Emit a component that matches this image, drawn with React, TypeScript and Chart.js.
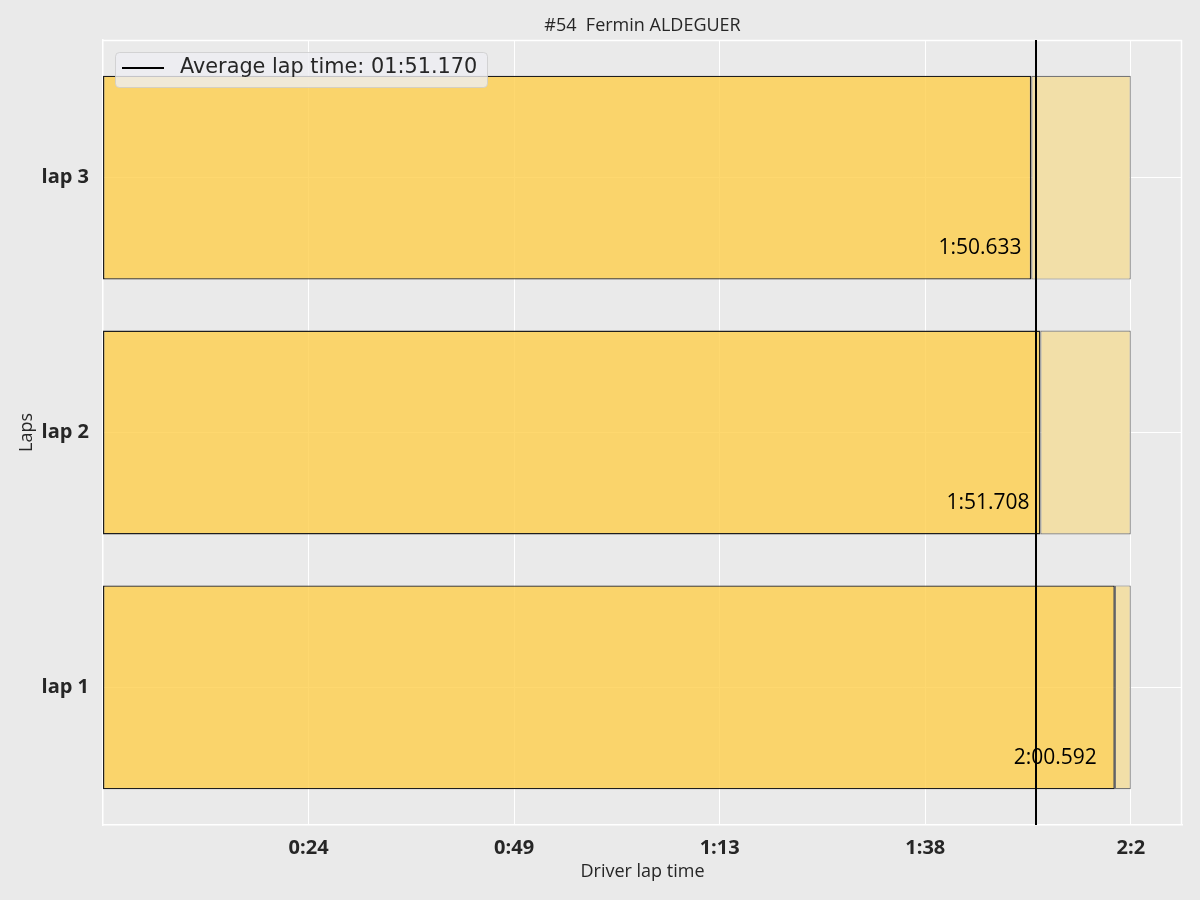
import React, { useEffect, useRef } from 'react';
import { Chart, registerables } from 'chart.js';

Chart.register(...registerables);

// ---- data ----
const lapNames = ['lap 1', 'lap 2', 'lap 3'];
const lapTimes = [120.592, 111.708, 110.633];
const lapTimeLabels = ['2:00.592', '1:51.708', '1:50.633'];
const referenceTime = 122.5;
const averageLapTime = 111.17;
const averageLabel = 'Average lap time: 01:51.170';
const xTickValues = [24.5, 49, 73.5, 98, 122.5];
const xMax = 128.6;
const titleText = '#54  Fermin ALDEGUER';
const xTitle = 'Driver lap time';
const yTitle = 'Laps';

const TEXT = '#262626';

function fmtTick(v: number): string {
  return `${Math.floor(v / 60)}:${Math.floor(v % 60)}`;
}

const decor = {
  id: 'decor',
  beforeDraw(chart: any) {
    const { ctx, width, height } = chart;
    ctx.save();
    ctx.fillStyle = '#EAEAEA';
    ctx.fillRect(0, 0, width, height);
    ctx.restore();
  },
  beforeDatasetsDraw(chart: any) {
    const { ctx, chartArea } = chart;
    ctx.save();
    ctx.strokeStyle = '#ffffff';
    ctx.lineWidth = 1.5;
    ctx.beginPath();
    ctx.moveTo(chartArea.left, chartArea.top + 0.5);
    ctx.lineTo(chartArea.right, chartArea.top + 0.5);
    ctx.moveTo(chartArea.right - 0.5, chartArea.top);
    ctx.lineTo(chartArea.right - 0.5, chartArea.bottom);
    ctx.stroke();
    ctx.restore();
  },
  afterDatasetsDraw(chart: any) {
    const { ctx, chartArea } = chart;
    const xs = chart.scales.x;
    const ys = chart.scales.y;
    ctx.save();
    // value labels
    ctx.font = '21px "Open Sans"';
    ctx.fillStyle = '#000';
    ctx.textAlign = 'left';
    ctx.textBaseline = 'alphabetic';
    lapTimes.forEach((v, i) => {
      ctx.fillText(lapTimeLabels[i], xs.getPixelForValue(v * 0.9), ys.getPixelForValue(i - 0.3));
    });
    // average line
    const ax = Math.round(xs.getPixelForValue(averageLapTime));
    ctx.strokeStyle = '#000';
    ctx.lineWidth = 2;
    ctx.beginPath();
    ctx.moveTo(ax, chartArea.top);
    ctx.lineTo(ax, chartArea.bottom);
    ctx.stroke();
    // legend
    const lx = 115, ly = 52, lw = 372, lh = 35;
    ctx.beginPath();
    (ctx as any).roundRect(lx + 0.5, ly + 0.5, lw, lh, 4);
    ctx.fillStyle = 'rgba(238,238,242,0.8)';
    ctx.fill();
    ctx.strokeStyle = 'rgba(204,204,204,0.8)';
    ctx.lineWidth = 1;
    ctx.stroke();
    ctx.beginPath();
    ctx.strokeStyle = '#000';
    ctx.lineWidth = 2;
    ctx.moveTo(122, 68);
    ctx.lineTo(164, 68);
    ctx.stroke();
    ctx.fillStyle = TEXT;
    ctx.font = '20.8px "DejaVu Sans"';
    ctx.textBaseline = 'middle';
    ctx.fillText(averageLabel, 180, 68);
    // title (keep double space visible)
    ctx.font = '18px "Open Sans"';
    ctx.textAlign = 'center';
    ctx.fillText(titleText.replace(/  /g, '\u00a0 '), (chartArea.left + chartArea.right) / 2, 26);
    ctx.restore();
  },
};

export default function App() {
  const ref = useRef<HTMLCanvasElement>(null);
  useEffect(() => {
    if (!ref.current) return;
    Chart.defaults.font.family = '"Open Sans"';
    const chart = new Chart(ref.current, {
      type: 'bar',
      data: {
        datasets: [
          {
            label: 'laps',
            data: lapTimes.map((v, i) => ({ x: v, y: i })) as any,
            backgroundColor: 'rgba(254,206,75,0.8)',
            borderColor: '#1e1e1e',
            borderWidth: 1.4,
            borderSkipped: false,
            grouped: false,
            order: 0,
            barPercentage: 0.8,
            categoryPercentage: 1,
          } as any,
          {
            label: 'reference',
            data: lapTimes.map((v, i) => ({ x: [v, referenceTime], y: i })) as any,
            backgroundColor: 'rgb(242,223,168)',
            borderColor: 'rgba(80,80,80,0.75)',
            borderWidth: 1.2,
            borderSkipped: false,
            grouped: false,
            order: 1,
            barPercentage: 0.8,
            categoryPercentage: 1,
          } as any,
        ],
      },
      options: {
        indexAxis: 'y',
        responsive: false,
        devicePixelRatio: 1,
        animation: false,
        layout: { padding: { top: 40, right: 18, left: 0, bottom: 0 } },
        plugins: {
          legend: { display: false },
          tooltip: { enabled: false },
          title: { display: false },
        },
        scales: {
          x: {
            type: 'linear',
            min: 0,
            max: xMax,
            offset: false,
            afterBuildTicks: (s: any) => {
              s.ticks = xTickValues.map((v) => ({ value: v }));
            },
            afterFit: (s: any) => {
              s.height = 75;
            },
            grid: { color: '#ffffff', lineWidth: 1, drawTicks: false, offset: false },
            border: { color: '#ffffff', width: 1.5 },
            ticks: {
              callback: (v: any) => fmtTick(Number(v)),
              font: { family: '"Open Sans"', size: 20, weight: 'bold' },
              color: TEXT,
              padding: 11,
              maxRotation: 0,
              autoSkip: false,
            },
            title: {
              display: true,
              text: xTitle,
              font: { family: '"Open Sans"', size: 18 },
              color: TEXT,
              padding: { top: 0, bottom: 17 },
            },
          },
          y: {
            type: 'linear',
            min: -0.54,
            max: 2.54,
            offset: false,
            afterBuildTicks: (s: any) => {
              s.ticks = lapNames.map((_, i) => ({ value: i }));
            },
            afterFit: (s: any) => {
              s.width = 103;
            },
            grid: { color: '#ffffff', lineWidth: 1, drawTicks: false, offset: false },
            border: { color: '#ffffff', width: 1.5 },
            ticks: {
              callback: (v: any) => lapNames[Math.round(Number(v))] ?? '',
              font: { family: '"Open Sans"', size: 20, weight: 'bold' },
              color: TEXT,
              padding: 14,
              autoSkip: false,
            },
            title: {
              display: true,
              text: yTitle,
              font: { family: '"Open Sans"', size: 18 },
              color: TEXT,
              padding: { top: 16, bottom: 0 },
            },
          },
        },
      } as any,
      plugins: [decor],
    });
    return () => chart.destroy();
  }, []);
  return (
    <div style={{ position: 'absolute', left: 0, top: 0, width: 1200, height: 900 }}>
      <canvas ref={ref} width={1200} height={900} style={{ width: 1200, height: 900 }} />
    </div>
  );
}
